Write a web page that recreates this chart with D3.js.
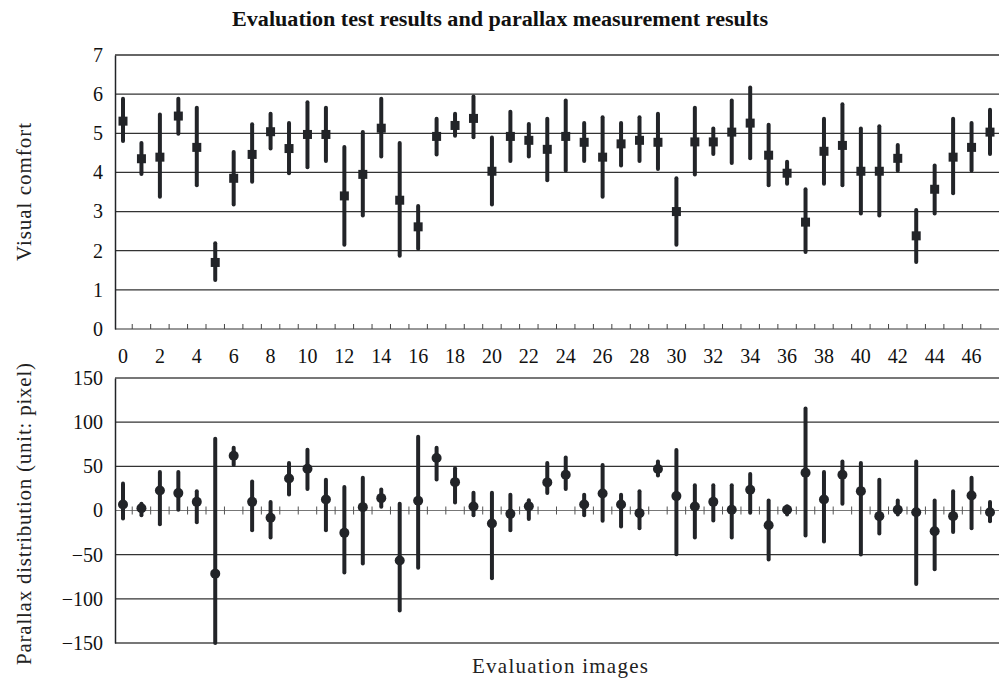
<!DOCTYPE html>
<html>
<head>
<meta charset="utf-8">
<script src="https://cdn.jsdelivr.net/npm/d3@7"></script>
<style>
  body { margin: 0; background: #fff; }
  svg { display: block; font-family: "Liberation Serif", "DejaVu Serif", serif; }
</style>
</head>
<body>
<div id="chart"></div>
<script>
// evaluation images 0..47
const images = d3.range(48);

// visual comfort: mean, upper and lower end of bar
const comfortMean = [5.31, 4.35, 4.39, 5.44, 4.64, 1.70, 3.85, 4.46, 5.04, 4.61,
  4.97, 4.97, 3.40, 3.95, 5.13, 3.29, 2.61, 4.92, 5.20, 5.38,
  4.03, 4.92, 4.82, 4.59, 4.92, 4.77, 4.39, 4.73, 4.82, 4.77,
  3.00, 4.78, 4.78, 5.03, 5.26, 4.44, 3.98, 2.73, 4.54, 4.69,
  4.03, 4.03, 4.36, 2.38, 3.57, 4.39, 4.64, 5.03];
const comfortHigh = [5.88, 4.75, 5.48, 5.88, 5.65, 2.19, 4.52, 5.23, 5.50, 5.26,
  5.79, 5.65, 4.65, 5.03, 5.88, 4.75, 3.14, 5.37, 5.50, 5.94,
  4.89, 5.55, 5.24, 5.37, 5.84, 5.26, 5.41, 5.26, 5.41, 5.50,
  3.85, 5.65, 5.12, 5.84, 6.17, 5.22, 4.27, 3.57, 5.37, 5.74,
  5.12, 5.18, 4.70, 3.04, 4.18, 5.37, 5.26, 5.60];
const comfortLow = [4.80, 3.96, 3.38, 4.99, 3.67, 1.25, 3.18, 3.76, 4.61, 3.98,
  4.13, 4.29, 2.15, 2.90, 4.41, 1.87, 2.05, 4.46, 4.94, 4.90,
  3.18, 4.29, 4.41, 3.80, 4.05, 4.29, 3.38, 4.18, 4.29, 4.09,
  2.15, 3.95, 4.47, 4.24, 4.36, 3.67, 3.71, 1.97, 3.71, 3.67,
  2.95, 2.90, 4.05, 1.71, 2.95, 3.47, 4.05, 4.47];

// parallax distribution (pixel): mean, max, min
const parallaxMean = [6.8, 2.6, 22.7, 19.7, 9.8, -71.5, 62.0, 9.8, -8.3, 36.3,
  47.3, 12.5, -25.3, 3.8, 14.0, -56.7, 11.0, 59.4, 32.1, 4.5,
  -14.8, -3.8, 4.9, 31.8, 40.5, 6.8, 19.3, 6.8, -3.0, 46.9,
  16.3, 4.5, 9.8, 0.8, 23.4, -16.6, 0.8, 42.7, 12.5, 40.5,
  21.9, -6.4, 0.8, -1.9, -23.4, -6.4, 17.0, -1.9];
const parallaxHigh = [30.6, 7.6, 43.5, 43.5, 21.9, 81.3, 71.1, 32.9, 9.5, 53.7,
  68.8, 34.8, 26.5, 37.1, 23.8, 7.6, 83.6, 71.1, 47.7, 20.0,
  20.0, 17.8, 11.7, 53.7, 60.1, 17.8, 51.4, 17.8, 21.9, 55.6,
  68.5, 28.7, 28.7, 28.7, 41.2, 11.3, 4.9, 115.4, 43.5, 55.6,
  53.7, 34.8, 11.3, 55.6, 11.3, 21.9, 37.1, 9.5];
const parallaxLow = [-9.1, -5.3, -15.5, 0.8, -13.2, -150, 51.4, -22.3, -30.6, 18.2,
  24.2, -22.3, -70.3, -60.1, 4.2, -113.1, -64.7, 35.2, 9.1, -5.3,
  -76.8, -22.3, -9.5, 19.7, 24.2, -5.3, -11.7, -18.2, -20.0, 39.7,
  -49.5, -30.6, -11.3, -30.6, -2.6, -55.6, -4.5, -28.4, -35.2, 7.6,
  -49.9, -26.1, -4.5, -83.2, -66.6, -24.2, -20.0, -12.1];

const comfortTicks = [0, 1, 2, 3, 4, 5, 6, 7];
const parallaxTicks = [-150, -100, -50, 0, 50, 100, 150];
const xLabels = d3.range(0, 47, 2);

const width = 999, height = 679;
const left = 115, right = 999;
const ink = "#222428";
const tickFont = 20;

const svg = d3.select("#chart").append("svg")
  .attr("width", width)
  .attr("height", height);

const x = d3.scaleLinear().domain([0, 47]).range([123, 990]);
const yTop = d3.scaleLinear().domain([0, 7]).range([329, 55]);
const yBot = d3.scaleLinear().domain([-150, 150]).range([643, 378]);

// title
svg.append("text")
  .attr("x", 500).attr("y", 26)
  .attr("text-anchor", "middle")
  .attr("font-weight", "bold")
  .attr("font-size", 20)
  .attr("textLength", 536)
  .attr("lengthAdjust", "spacingAndGlyphs")
  .attr("fill", "#111")
  .text("Evaluation test results and parallax measurement results");

// ---- top panel: visual comfort ----
const topPanel = svg.append("g");

topPanel.selectAll(".grid")
  .data(comfortTicks)
  .enter().append("line")
  .attr("x1", left).attr("x2", right)
  .attr("y1", d => yTop(d)).attr("y2", d => yTop(d))
  .attr("stroke", d => d === 7 ? "#666" : "#333")
  .attr("stroke-width", d => d === 7 ? 2 : 1.2);

topPanel.append("g")
  .attr("transform", `translate(${left},0)`)
  .call(d3.axisLeft(yTop).tickValues(comfortTicks).tickFormat(d3.format("d")).tickSize(0).tickPadding(12))
  .call(g => g.select(".domain").attr("stroke", ink).attr("stroke-width", 1.5))
  .call(g => g.selectAll("text").attr("font-size", tickFont).attr("font-family", "Liberation Serif").attr("fill", "#111"));

// small ticks between images on the bottom axis
topPanel.selectAll(".tk")
  .data(d3.range(0.5, 47, 1))
  .enter().append("line")
  .attr("x1", d => x(d)).attr("x2", d => x(d))
  .attr("y1", yTop(0)).attr("y2", yTop(0) - 5)
  .attr("stroke", "#444").attr("stroke-width", 1);

topPanel.selectAll(".bar")
  .data(images)
  .enter().append("line")
  .attr("x1", d => x(d)).attr("x2", d => x(d))
  .attr("y1", d => yTop(comfortHigh[d])).attr("y2", d => yTop(comfortLow[d]))
  .attr("stroke", ink).attr("stroke-width", 4).attr("stroke-linecap", "round");

topPanel.selectAll(".mk")
  .data(images)
  .enter().append("rect")
  .attr("x", d => x(d) - 4.5).attr("y", d => yTop(comfortMean[d]) - 4.5)
  .attr("width", 9).attr("height", 9)
  .attr("fill", ink);

// x labels between panels
svg.selectAll(".xl")
  .data(xLabels)
  .enter().append("text")
  .attr("x", d => x(d)).attr("y", 363)
  .attr("text-anchor", "middle")
  .attr("font-size", tickFont)
  .attr("fill", "#111")
  .text(d => d);

// ---- bottom panel: parallax ----
const botPanel = svg.append("g");

botPanel.selectAll(".grid")
  .data(parallaxTicks)
  .enter().append("line")
  .attr("x1", left).attr("x2", right)
  .attr("y1", d => yBot(d)).attr("y2", d => yBot(d))
  .attr("stroke", d => d === 0 || Math.abs(d) === 150 ? "#777" : "#333")
  .attr("stroke-width", d => Math.abs(d) === 150 ? 2 : 1.2);

botPanel.append("g")
  .attr("transform", `translate(${left},0)`)
  .call(d3.axisLeft(yBot).tickValues(parallaxTicks).tickSize(0).tickPadding(12)
    .tickFormat(d => d < 0 ? "\u2212" + Math.abs(d) : d))
  .call(g => g.select(".domain").attr("stroke", ink).attr("stroke-width", 1.5))
  .call(g => g.selectAll("text").attr("font-size", tickFont).attr("font-family", "Liberation Serif").attr("fill", "#111"));

botPanel.selectAll(".tk")
  .data(d3.range(0.5, 47, 1))
  .enter().append("line")
  .attr("x1", d => x(d)).attr("x2", d => x(d))
  .attr("y1", yBot(0) - 4).attr("y2", yBot(0) + 4)
  .attr("stroke", "#555").attr("stroke-width", 1);

botPanel.selectAll(".bar")
  .data(images)
  .enter().append("line")
  .attr("x1", d => x(d)).attr("x2", d => x(d))
  .attr("y1", d => yBot(parallaxHigh[d])).attr("y2", d => yBot(parallaxLow[d]))
  .attr("stroke", ink).attr("stroke-width", 4).attr("stroke-linecap", "round");

botPanel.selectAll(".mk")
  .data(images)
  .enter().append("circle")
  .attr("cx", d => x(d)).attr("cy", d => yBot(parallaxMean[d]))
  .attr("r", 5)
  .attr("fill", ink);

// axis titles
svg.append("text")
  .attr("transform", `translate(31,192) rotate(-90)`)
  .attr("text-anchor", "middle")
  .attr("font-size", 21)
  .attr("textLength", 138)
  .attr("lengthAdjust", "spacing")
  .attr("fill", "#222")
  .text("Visual comfort");

svg.append("text")
  .attr("transform", `translate(31,514) rotate(-90)`)
  .attr("text-anchor", "middle")
  .attr("font-size", 21)
  .attr("textLength", 302)
  .attr("lengthAdjust", "spacing")
  .attr("fill", "#222")
  .text("Parallax distribution (unit: pixel)");

svg.append("text")
  .attr("x", 560).attr("y", 673)
  .attr("text-anchor", "middle")
  .attr("font-size", 21)
  .attr("textLength", 176)
  .attr("lengthAdjust", "spacing")
  .attr("fill", "#222")
  .text("Evaluation images");
</script>
</body>
</html>
